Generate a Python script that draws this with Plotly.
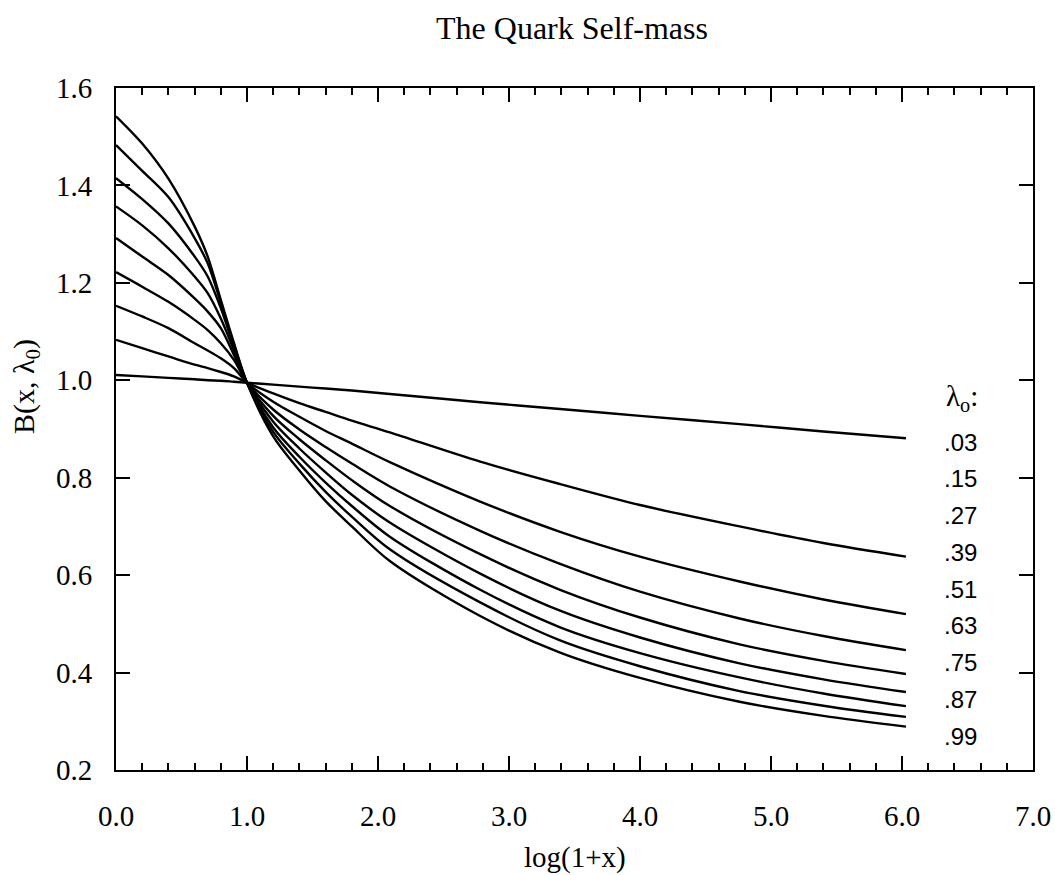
import plotly.graph_objects as go

# log(1+x) sample positions
x_vals = [0, 0.2, 0.4, 0.6, 0.7, 0.8, 0.9, 1.0, 1.2, 1.4, 1.6, 1.8, 2.09, 2.78, 3.39, 4.0, 4.76, 5.4, 6.03]

# B(x, lambda0) for each lambda0
B_003 = [1.011, 1.008, 1.005, 1.002, 1.000, 0.999, 0.997, 0.995, 0.991, 0.987, 0.983, 0.979, 0.972, 0.955, 0.941, 0.927, 0.910, 0.895, 0.881]
B_015 = [1.083, 1.066, 1.049, 1.032, 1.025, 1.017, 1.008, 0.995, 0.973, 0.953, 0.935, 0.917, 0.893, 0.833, 0.787, 0.744, 0.700, 0.666, 0.638]
B_027 = [1.153, 1.131, 1.107, 1.076, 1.061, 1.045, 1.025, 0.995, 0.956, 0.925, 0.896, 0.870, 0.832, 0.751, 0.689, 0.638, 0.587, 0.550, 0.520]
B_039 = [1.222, 1.192, 1.161, 1.124, 1.103, 1.076, 1.042, 0.995, 0.940, 0.899, 0.863, 0.829, 0.782, 0.691, 0.623, 0.566, 0.511, 0.475, 0.446]
B_051 = [1.292, 1.254, 1.216, 1.168, 1.141, 1.107, 1.052, 0.995, 0.927, 0.879, 0.836, 0.795, 0.742, 0.643, 0.570, 0.513, 0.458, 0.424, 0.397]
B_063 = [1.357, 1.318, 1.271, 1.213, 1.179, 1.127, 1.062, 0.995, 0.915, 0.860, 0.811, 0.765, 0.708, 0.603, 0.527, 0.472, 0.419, 0.386, 0.360]
B_075 = [1.415, 1.372, 1.322, 1.254, 1.213, 1.148, 1.069, 0.995, 0.903, 0.843, 0.790, 0.742, 0.679, 0.570, 0.493, 0.440, 0.390, 0.357, 0.331]
B_087 = [1.483, 1.430, 1.376, 1.292, 1.240, 1.159, 1.073, 0.995, 0.894, 0.829, 0.771, 0.720, 0.653, 0.544, 0.466, 0.413, 0.362, 0.332, 0.309]
B_099 = [1.542, 1.486, 1.414, 1.316, 1.254, 1.165, 1.077, 0.995, 0.885, 0.815, 0.752, 0.700, 0.629, 0.516, 0.441, 0.389, 0.340, 0.311, 0.289]

lambda_labels = [".03", ".15", ".27", ".39", ".51", ".63", ".75", ".87", ".99"]
series = [B_003, B_015, B_027, B_039, B_051, B_063, B_075, B_087, B_099]

x_ticks = [0, 1, 2, 3, 4, 5, 6, 7]
y_ticks = [0.2, 0.4, 0.6, 0.8, 1.0, 1.2, 1.4, 1.6]

SERIF = "Liberation Serif, Times New Roman, serif"
SANS = "Liberation Sans, Arial, sans-serif"

fig = go.Figure()
for lab, ys in zip(lambda_labels, series):
    fig.add_trace(go.Scatter(
        x=x_vals, y=ys, mode="lines", name=lab,
        line=dict(color="black", width=2.4, shape="spline", smoothing=0.9),
        showlegend=False, hoverinfo="skip",
    ))

W, H = 1055, 875
L, R, T, B = 116, 22, 88, 105
PW, PH = W - L - R, H - T - B   # 917 x 682


def px(sx):  # screen x -> paper
    return (sx - L) / PW


def py(sy):  # screen y -> paper
    return (H - B - sy) / PH


annotations = []
for i, lab in enumerate(lambda_labels):
    annotations.append(dict(
        text=lab, xref="paper", yref="paper",
        x=px(960), y=py(442 + i * 36.75),
        xanchor="center", yanchor="middle", showarrow=False,
        font=dict(family=SANS, size=24, color="black"),
    ))
annotations.append(dict(
    text="λ<sub>o</sub>:", xref="paper", yref="paper",
    x=px(962), y=py(398),
    xanchor="center", yanchor="middle", showarrow=False,
    font=dict(family=SERIF, size=29, color="black"),
))
annotations.append(dict(
    text="log(1+x)", xref="paper", yref="paper",
    x=px(575), y=py(858),
    xanchor="center", yanchor="middle", showarrow=False,
    font=dict(family=SERIF, size=29, color="black"),
))
annotations.append(dict(
    text="B(x, λ<sub>0</sub>)", xref="paper", yref="paper",
    x=px(26), y=py(387),
    xanchor="center", yanchor="middle", showarrow=False, textangle=-90,
    font=dict(family=SERIF, size=30, color="black"),
))

fig.update_layout(
    width=W, height=H, autosize=False,
    margin=dict(l=L, r=R, t=T, b=B, autoexpand=False),
    paper_bgcolor="white", plot_bgcolor="white",
    title=dict(text="The Quark Self-mass", x=px(572), xref="paper",
               y=1 - 28 / H, yref="container", yanchor="middle", xanchor="center",
               font=dict(family=SERIF, size=32, color="black")),
    annotations=annotations,
    xaxis=dict(
        range=[0, 7], tickvals=x_ticks, tickformat=".1f",
        showgrid=False, zeroline=False, automargin=False,
        showline=True, linecolor="black", linewidth=2, mirror="ticks",
        ticks="inside", ticklen=14, tickwidth=2, tickcolor="black",
        minor=dict(dtick=0.2, ticks="inside", ticklen=7, tickwidth=1.5, tickcolor="black", showgrid=False),
        tickfont=dict(family=SERIF, size=29, color="black"),
        ticklabelstandoff=19, ticklabeloverflow="allow",
    ),
    yaxis=dict(
        range=[0.2, 1.6], tickvals=y_ticks, tickformat=".1f",
        showgrid=False, zeroline=False, automargin=False,
        showline=True, linecolor="black", linewidth=2, mirror="ticks",
        ticks="inside", ticklen=14, tickwidth=2, tickcolor="black",
        tickfont=dict(family=SERIF, size=29, color="black"),
        ticklabelstandoff=16,
    ),
)

# remove the page's default 8px body margin so the 1055x875 figure fills the window
fig.write_html(
    "out.html",
    config={"displayModeBar": False, "responsive": False},
    post_script="document.body.style.margin='0';document.body.style.overflow='hidden';",
)
